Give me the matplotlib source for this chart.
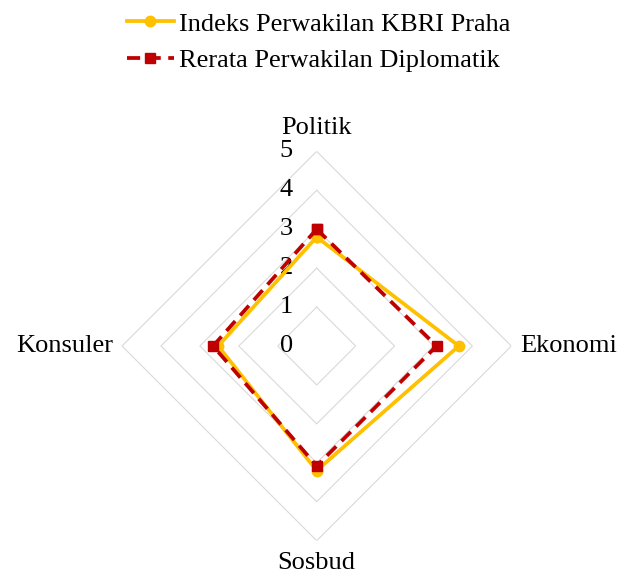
import numpy as np
import matplotlib
matplotlib.use("Agg")
import matplotlib.pyplot as plt
from matplotlib.transforms import offset_copy

plt.rcParams["font.family"] = ["Liberation Serif", "DejaVu Serif"]

categories = ["Politik", "Ekonomi", "Sosbud", "Konsuler"]
kbri_praha = [2.8, 3.65, 3.2, 2.53]
rerata = [3.0, 3.08, 3.08, 2.66]
levels = [1, 2, 3, 4, 5]
tick_labels = ["0", "1", "2", "3", "4", "5"]

n = len(categories)
angles = np.linspace(0, 2 * np.pi, n, endpoint=False)
closed = np.concatenate([angles, angles[:1]])

fig = plt.figure(figsize=(6.19, 5.76), dpi=100)
ax = fig.add_axes([0.1971, 0.0613, 0.629, 0.676], projection="polar")
ax.set_theta_zero_location("N")
ax.set_theta_direction(-1)
ax.set_ylim(0, 5)
ax.grid(False)
ax.spines["polar"].set_visible(False)
ax.set_xticks([])
ax.set_yticks([])
ax.patch.set_alpha(0)

# diamond gridlines
for lv in levels:
    ax.plot(closed, [lv] * (n + 1), color="#D9D9D9", lw=0.8, zorder=1)

# radial labels 0..5 left of the top axis
tr = offset_copy(ax.transData, fig=fig, x=-24, y=0, units="dots")
for i, t in enumerate(tick_labels):
    ax.text(0, i, t, transform=tr, ha="right", va="center", fontsize=19,
            zorder=2, clip_on=False)

# category labels
lab_off = {"Politik": (0, 23, "center", "center"),
           "Ekonomi": (9, 0, "left", "center"),
           "Sosbud": (0, -22, "center", "center"),
           "Konsuler": (-9, 0, "right", "center")}
for a, c in zip(angles, categories):
    dx, dy, ha, va = lab_off[c]
    t = offset_copy(ax.transData, fig=fig, x=dx, y=dy, units="dots")
    ax.text(a, 5, c, transform=t, ha=ha, va=va, fontsize=19, clip_on=False)

vals1 = kbri_praha + kbri_praha[:1]
vals2 = rerata + rerata[:1]
ax.plot(closed, vals1, color="#FFC000", lw=2.7, marker="o", markersize=7.5,
        label="Indeks Perwakilan KBRI Praha", zorder=3, clip_on=False)
ax.plot(closed, vals2, color="#C00000", lw=2.7, linestyle=(0, (3.5, 2)),
        marker="s", markersize=7.5, label="Rerata Perwakilan Diplomatik",
        zorder=4, clip_on=False)

fig.legend(loc="upper center", bbox_to_anchor=(0.515, 1.02), frameon=False,
           fontsize=19, handlelength=1.75, handletextpad=0.2, labelspacing=0.5)

fig.savefig("out.png", dpi=100)
